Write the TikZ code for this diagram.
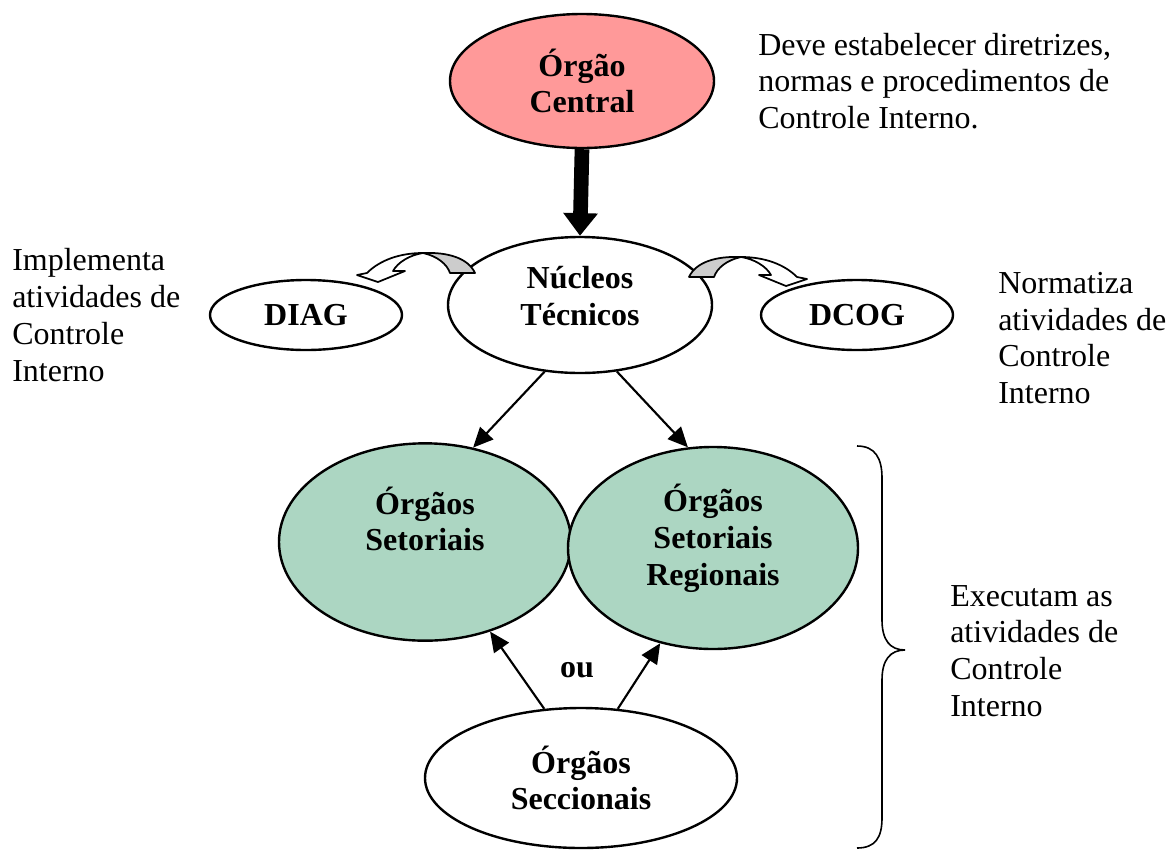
\documentclass[tikz,border=0pt]{standalone}
\usepackage{fontspec}
\setmainfont{Liberation Serif}
\usetikzlibrary{shapes.geometric,arrows.meta}
\definecolor{centralfill}{RGB}{255,153,153}
\definecolor{setorfill}{RGB}{172,214,194}
\definecolor{bandgray}{RGB}{204,204,204}

\tikzset{
  % curved block arrow: shaded back band rising from the base, white front band ending in the head
  turnarrow/.pic={
    \filldraw[fill=bandgray, line width=1.3pt, line join=round]
      (52,20) .. controls (45,5) and (25,-1) .. (0,0)
      .. controls (14,3) and (24,11) .. (27,20) -- cycle;
    \filldraw[fill=white, line width=1.3pt, line join=round]
      (0,0) .. controls (-23,0) and (-43,7) .. (-56,20)
      -- (-66,22) -- (-45,29) -- (-18,18) -- (-30,18)
      .. controls (-25,9) and (-13,2) .. (0,0) -- cycle;
  }
}

\begin{document}
\begin{tikzpicture}[x=0.75pt,y=-0.75pt,
  bubble/.style={ellipse, draw, line width=1.8pt, inner sep=0pt},
  title/.style={font=\fontsize{24}{27.6}\selectfont\bfseries, align=center, inner sep=0pt},
  note/.style={font=\fontsize{24}{27.6}\selectfont, align=left, inner sep=0pt, anchor=west},
  link/.style={line width=1.6pt, -{Triangle[length=15pt,width=13.5pt]}},
  bigarrow/.style={line width=11pt, -{Triangle[length=17pt,width=25pt]}},
]
\useasboundingbox (0,0) rectangle (1167,850);

% ellipses
\node[bubble, fill=centralfill, minimum width=198pt, minimum height=100.5pt, title] (cen) at (582,81) {Órgão\\Central};
\node[bubble, fill=white, minimum width=198pt, minimum height=102pt] (nuc) at (580,305) {};
\node[title] (nuct) at (580,296) {Núcleos\\Técnicos};
\node[bubble, fill=white, minimum width=144pt, minimum height=52.5pt, title] (diag) at (306,315) {DIAG};
\node[bubble, fill=white, minimum width=144pt, minimum height=52.5pt, title] (dcog) at (857,315) {DCOG};
\node[bubble, fill=setorfill, minimum width=219pt, minimum height=148pt] (set) at (425,542) {};
\node[title] (sett) at (425,519) {Órgãos\\Setoriais};
\node[bubble, fill=setorfill, minimum width=217.5pt, minimum height=151.5pt] (reg) at (713,548) {};
\node[title] (regt) at (713,538) {Órgãos\\Setoriais\\Regionais};
\node[bubble, fill=white, minimum width=234pt, minimum height=105pt, title] (sec) at (581,778) {Órgãos\\Seccionais};
\node[title] (ou) at (577,670) {ou};

% connectors
\draw[bigarrow] (cen.south) -- (nuc.north);
\draw[link] (nuc.242) -- (set.63);
\draw[link] (nuc.299) -- (reg.104);
\draw[link] (sec.118) -- (set.306);
\draw[link] (sec.62) -- (reg.241);

% curved block arrows from the technical nuclei to DIAG and DCOG
\pic at (423,253) {turnarrow};
\pic[xscale=-1] at (741,257) {turnarrow};

% brace grouping the executing bodies
\draw[line width=1.2pt]
  (857,446) .. controls (875,446) and (882,458) .. (882,478) -- (882,620)
  .. controls (882,640) and (890,650) .. (905,650)
  .. controls (890,650) and (882,660) .. (882,680) -- (882,818)
  .. controls (882,838) and (875,848) .. (857,848);

% side notes
\node[note] (n1) at (758,81) {Deve estabelecer diretrizes,\\normas e procedimentos de\\Controle Interno.};
\node[note] (n2) at (12,315) {Implementa\\atividades de\\Controle\\Interno};
\node[note] (n3) at (998,338) {Normatiza\\atividades de\\Controle\\Interno};
\node[note] (n4) at (950,651) {Executam as\\atividades de\\Controle\\Interno};
\end{tikzpicture}
\end{document}
